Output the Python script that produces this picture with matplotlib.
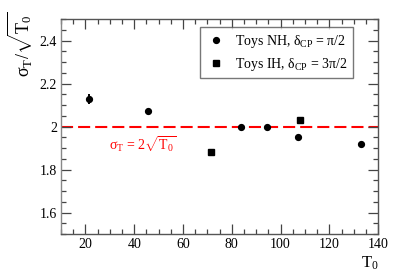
import matplotlib
matplotlib.use("Agg")
import matplotlib.pyplot as plt
from matplotlib.lines import Line2D
from matplotlib.ticker import MultipleLocator, FormatStrFormatter

plt.rcParams['font.family'] = ['Liberation Serif', 'DejaVu Serif']
plt.rcParams['mathtext.fontset'] = 'custom'
plt.rcParams['mathtext.rm'] = 'Liberation Serif'
plt.rcParams['mathtext.it'] = 'Liberation Serif:italic'

# data
t0_nh = [21.6, 45.8, 83.8, 94.3, 107.3, 132.8]
ratio_nh = [2.128, 2.074, 2.000, 1.997, 1.951, 1.919]
err_nh = [0.022, 0.008, 0.005, 0.005, 0.004, 0.004]
t0_ih = [71.5, 108.0]
ratio_ih = [1.882, 2.031]
err_ih = [0.005, 0.004]
ref_value = 2.0
label_nh = 'Toys NH, δ$_{\\rm CP}$ = π/2'
label_ih = 'Toys IH, δ$_{\\rm CP}$ = 3π/2'

fig = plt.figure(figsize=(4.07, 2.76), dpi=100)
ax = fig.add_axes([0.150, 0.152, 0.779, 0.779])

ax.errorbar(t0_nh, ratio_nh, yerr=err_nh, fmt='o', color='black', ms=4.2,
            elinewidth=1.4, capsize=0)
ax.errorbar(t0_ih, ratio_ih, yerr=err_ih, fmt='s', color='black', ms=3.8,
            elinewidth=1.4, capsize=0)

ax.axhline(ref_value, color='#ff0000', lw=1.5, linestyle=(0, (5.8, 2.4)), zorder=1)
ax.text(29.7, 1.915, 'σ$_{\\rm T}$ = 2$\\sqrt{\\rm T_0}$', color='#ff0000',
        fontsize=10, ha='left', va='center')

ax.set_xlim(10, 140)
ax.set_ylim(1.5, 2.5)
ax.xaxis.set_major_locator(MultipleLocator(20))
ax.xaxis.set_minor_locator(MultipleLocator(5))
ax.yaxis.set_major_locator(MultipleLocator(0.2))
ax.yaxis.set_minor_locator(MultipleLocator(0.05))
ax.yaxis.set_major_formatter(FormatStrFormatter('%g'))
ax.tick_params(which='both', direction='in', top=True, right=True,
               labelsize=10, colors='#444444', labelcolor='black', pad=3)
ax.tick_params(which='major', length=7, width=0.9)
ax.tick_params(which='minor', length=3.5, width=0.9)
for s in ax.spines.values():
    s.set_color('#555555')
    s.set_linewidth(1.0)
ax.spines['left'].set_color('#888888')

handles = [Line2D([], [], marker='o', ls='none', color='black', ms=4.2),
           Line2D([], [], marker='s', ls='none', color='black', ms=3.8)]
leg = ax.legend(handles=handles, labels=[label_nh, label_ih], loc='upper left',
                bbox_to_anchor=(0.438, 0.963), frameon=True, fancybox=False,
                fontsize=10, handletextpad=0.6, borderpad=0.4, labelspacing=0.45,
                handlelength=1.5, borderaxespad=0)
leg.get_frame().set_edgecolor('#555555')
leg.get_frame().set_linewidth(1.0)

fig.text(20 / 407, 1 - 44 / 276, 'σ$_{\\rm T}$/$\\sqrt{\\rm T_0}$', rotation=90,
         ha='center', va='center', fontsize=13)
fig.text(370 / 407, 1 - 263 / 276, 'T$_{\\rm 0}$', ha='center', va='center', fontsize=12)

fig.savefig('out.png', dpi=100)
